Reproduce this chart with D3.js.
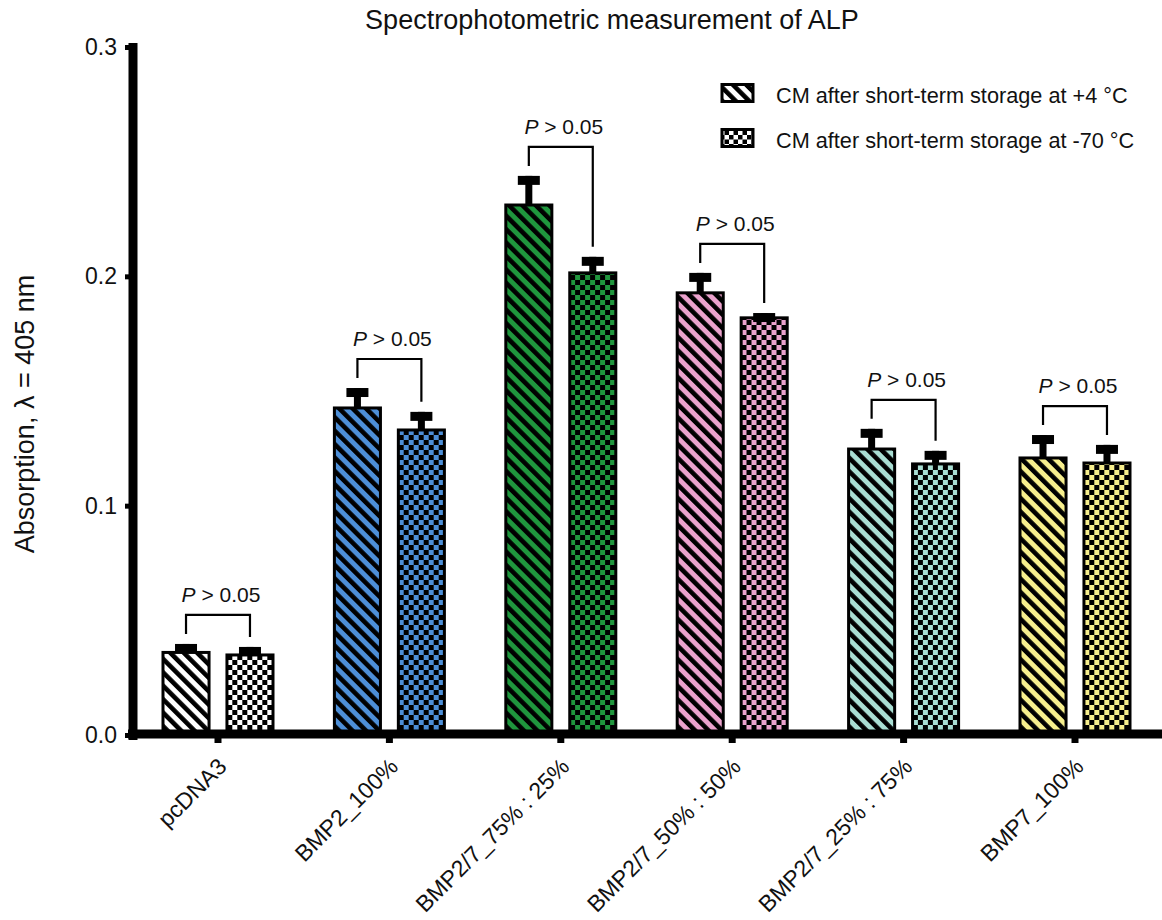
<!DOCTYPE html>
<html><head><meta charset="utf-8">
<script src="https://cdn.jsdelivr.net/npm/d3@7"></script>
<style>body{margin:0;background:#fff}svg{display:block;font-family:"Liberation Sans",Arial,sans-serif}</style>
</head><body>
<svg id="chart" width="1162" height="920"></svg>
<script>
const categories = ["pcDNA3","BMP2_100%","BMP2/7_75% : 25%","BMP2/7_50% : 50%","BMP2/7_25% : 75%","BMP7_100%"];
const series = ["CM after short-term storage at +4 °C","CM after short-term storage at -70 °C"];
const mean4 = [0.0360,0.1426,0.2311,0.1928,0.1247,0.1208];
const sd4   = [0.0037,0.0087,0.0127,0.0087,0.0088,0.0100];
const mean70 = [0.0349,0.1330,0.2015,0.1819,0.1182,0.1186];
const sd70   = [0.0035,0.0079,0.0070,0.0021,0.0057,0.0079];
const pLabels = ["> 0.05","> 0.05","> 0.05","> 0.05","> 0.05","> 0.05"];
const groupColors = ["#ffffff","#4d8fd8","#1f963d","#eba2cd","#a9ded3","#f7ef8d"];
const yTicks = [0,0.1,0.2,0.3];
const title = "Spectrophotometric measurement of ALP";
const yTitle = "Absorption, λ = 405 nm";

const svg = d3.select("#chart");
const defs = svg.append("defs");

const y = d3.scaleLinear().domain([0,0.3]).range([735,47]);
const x0 = d3.scaleBand().domain(categories).range([132.3,1160.7]).padding(0);
const x1 = d3.scaleBand().domain(series).range([0,x0.bandwidth()]).paddingInner(0.28).paddingOuter(0.48);

// patterns
function stripe(id,color,scale){
  const p = defs.append("pattern").attr("id",id).attr("patternUnits","userSpaceOnUse")
    .attr("width",9.5*scale).attr("height",9.5*scale).attr("patternTransform","rotate(-45)");
  p.append("rect").attr("width",9.5*scale).attr("height",9.5*scale).attr("fill",color);
  p.append("rect").attr("width",4.6*scale).attr("height",9.5*scale).attr("fill","#000");
}
function checker(id,color,s){
  const p = defs.append("pattern").attr("id",id).attr("patternUnits","userSpaceOnUse")
    .attr("width",2*s).attr("height",2*s);
  p.append("rect").attr("width",2*s).attr("height",2*s).attr("fill",color);
  p.append("rect").attr("width",s).attr("height",s).attr("fill","#000");
  p.append("rect").attr("x",s).attr("y",s).attr("width",s).attr("height",s).attr("fill","#000");
}
groupColors.forEach((c,i)=>{stripe("s"+i,c,1);checker("c"+i,c,5);});
stripe("sLeg","#ffffff",1);
checker("cLeg","#ffffff",4.5);

const rows = categories.map((c,i)=>({cat:c,i,vals:[
  {s:series[0],m:mean4[i],sd:sd4[i],pat:"s"+i},
  {s:series[1],m:mean70[i],sd:sd70[i],pat:"c"+i}]}));

const g = svg.append("g");
const grp = g.selectAll("g.grp").data(rows).join("g").attr("transform",d=>`translate(${x0(d.cat)},0)`);
// bars
grp.selectAll("rect.bar").data(d=>d.vals).join("rect").attr("class","bar")
  .attr("x",d=>x1(d.s)).attr("width",x1.bandwidth())
  .attr("y",d=>y(d.m)).attr("height",d=>y(0)-y(d.m))
  .attr("fill",d=>`url(#${d.pat})`).attr("stroke","#000").attr("stroke-width",3);
// error bars
grp.selectAll("rect.stem").data(d=>d.vals).join("rect").attr("class","stem")
  .attr("x",d=>x1(d.s)+x1.bandwidth()/2-3.5).attr("width",7)
  .attr("y",d=>y(d.m+d.sd)).attr("height",d=>y(d.m)-y(d.m+d.sd)).attr("fill","#000");
grp.selectAll("rect.cap").data(d=>d.vals).join("rect").attr("class","cap")
  .attr("x",d=>x1(d.s)+x1.bandwidth()/2-11).attr("width",22)
  .attr("y",d=>y(d.m+d.sd)).attr("height",9).attr("fill","#000");
// brackets
grp.each(function(d){
  const gg = d3.select(this);
  const xa = x1(series[0])+x1.bandwidth()/2, xb = x1(series[1])+x1.bandwidth()/2;
  const ya = y(d.vals[0].m+d.vals[0].sd), yb = y(d.vals[1].m+d.vals[1].sd);
  const top = Math.min(ya,yb)-29;
  gg.append("path").attr("d",`M${xa},${ya-10}V${top}H${xb}V${yb-10}`)
    .attr("fill","none").attr("stroke","#000").attr("stroke-width",2.2);
  const t = gg.append("text").attr("x",(xa+xb)/2+3).attr("y",top-13).attr("text-anchor","middle")
    .attr("font-size",21).attr("fill","#111");
  t.append("tspan").attr("font-style","italic").text("P");
  t.append("tspan").text(" "+pLabels[d.i]);
});

// axes
const xAxis = svg.append("g").attr("transform","translate(0,734)")
  .call(d3.axisBottom(x0).tickSize(6).tickSizeOuter(0).tickFormat(""));
xAxis.select(".domain").attr("stroke","#000").attr("stroke-width",9).attr("d","M128,0H1162");
xAxis.selectAll(".tick line").attr("stroke","#000").attr("stroke-width",7).attr("y1",4).attr("y2",9);
const xl = svg.append("g");
xl.selectAll("text").data(categories).join("text")
  .attr("transform",d=>`translate(${x0(d)+x0.bandwidth()/2+10},768) rotate(-45)`)
  .attr("text-anchor","end").attr("font-size",23).attr("fill","#111").text(d=>d);

const yAxis = svg.append("g").attr("transform","translate(133,0)")
  .call(d3.axisLeft(y).tickValues(yTicks).tickFormat(d3.format(".1f")).tickSize(8).tickPadding(8).tickSizeOuter(0));
yAxis.select(".domain").attr("stroke","#000").attr("stroke-width",9).attr("d",`M0,${y(0.3)-4}V${y(0)+5}`);
yAxis.selectAll(".tick line").attr("stroke","#000").attr("stroke-width",5);
yAxis.selectAll(".tick text").attr("font-size",23).attr("fill","#111").attr("font-family","Liberation Sans, Arial, sans-serif");

// titles
svg.append("text").attr("x",612).attr("y",29).attr("text-anchor","middle").attr("font-size",27).attr("fill","#111").text(title);
svg.append("text").attr("transform","translate(34,414) rotate(-90)").attr("text-anchor","middle")
  .attr("font-size",27).attr("fill","#111").text(yTitle);

// legend
const leg = svg.append("g");
const legY = [83,128];
const legPat = ["sLeg","cLeg"];
series.forEach((s,i)=>{
  leg.append("rect").attr("x",722).attr("y",legY[i]+1.5).attr("width",31).attr("height",17)
    .attr("fill",`url(#${legPat[i]})`).attr("stroke","#000").attr("stroke-width",3);
  leg.append("text").attr("x",776).attr("y",legY[i]+12).attr("dy","0.35em").attr("font-size",21.7).attr("fill","#111").text(s);
});
</script>
</body></html>
